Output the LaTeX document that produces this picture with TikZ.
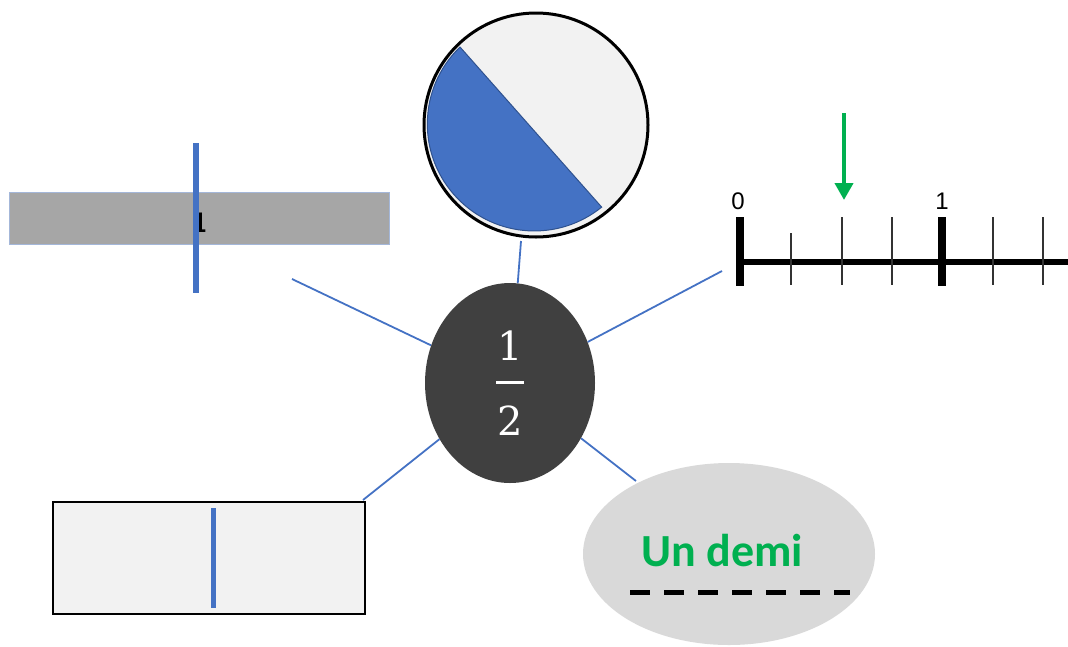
\documentclass[tikz,border=0pt]{standalone}
\usepackage{fontspec}
\newfontfamily\calibri{Carlito}
\newfontfamily\arial{Liberation Sans}
\newfontfamily\cambria{DejaVu Serif}
\usetikzlibrary{arrows.meta,shapes.geometric}

\definecolor{linkblue}{HTML}{4472C4}
\definecolor{darkblue}{HTML}{2F528F}
\definecolor{darkfill}{HTML}{404040}
\definecolor{lightfill}{HTML}{F2F2F2}
\definecolor{barfill}{HTML}{A6A6A6}
\definecolor{barline}{HTML}{A4B7D9}
\definecolor{ovalfill}{HTML}{D9D9D9}
\definecolor{demigreen}{HTML}{00B050}

\begin{document}
\begin{tikzpicture}[x=1pt,y=-1pt,
    link/.style={draw=linkblue,line width=1.8pt},
    cut/.style={draw=linkblue,line width=5pt},
    smalltick/.style={draw=black!80,line width=1.8pt},
    bigtick/.style={draw=black,line width=8pt}]
    \useasboundingbox (0,0) rectangle (1068,646);

    % free ends of the connectors
    \coordinate (pie-end) at (521,241);
    \coordinate (bar-end) at (292,279);
    \coordinate (line-end) at (722,271);
    \coordinate (box-end) at (363,500);
    \coordinate (demi-end) at (636,481);

    % fraction in the middle
    \node[ellipse, fill=darkfill, minimum width=170, minimum height=200, inner sep=0,
          text=white, align=center, font={\cambria\fontsize{40}{23}\selectfont}] (half) at (510,383)
          {1\\\rule{28pt}{2.4pt}\\[21pt]2};

    \draw[link] (pie-end) -- (half);
    \draw[link] (bar-end) -- (half);
    \draw[link] (line-end) -- (half);
    \draw[link] (box-end) -- (half);
    \draw[link] (demi-end) -- (half);

    % disc cut in two
    \coordinate (pie) at (536,125);
    \draw[fill=lightfill, line width=3pt] (pie) circle[radius=112];
    \filldraw[fill=linkblue, draw=darkblue, line width=1pt]
        (460,47) arc[start angle=226, end angle=51, radius=107] -- cycle;

    % grey strip
    \node[draw=barline, fill=barfill, minimum width=380, minimum height=52, inner sep=0] (bar) at (199,218) {};
    \node[font={\calibri\bfseries\fontsize{30}{30}\selectfont}, inner sep=0] (one) at (199,223) {1};
    \draw[cut, line width=6pt] (196,143) -- (196,293);

    % number line
    \draw[line width=6pt] (738,262) -- (1068,262);
    \draw[smalltick] (791,233) -- (791,285);
    \foreach \x in {842,892,993,1043}
        \draw[smalltick] (\x,217) -- (\x,285);
    \draw[bigtick] (740,217) -- (740,286);
    \draw[bigtick] (942,217) -- (942,286);
    \node[font={\arial\fontsize{24}{24}\selectfont}, inner sep=0] (zero) at (738,201) {0};
    \node[font={\arial\fontsize{24}{24}\selectfont}, inner sep=0] (unit) at (942,201) {1};
    \coordinate (arrow-top) at (844,113);
    \coordinate (arrow-tip) at (844,200);
    \draw[demigreen, line width=4pt, -{Triangle[width=18pt,length=17pt]}] (arrow-top) -- (arrow-tip);

    % rectangle cut in two
    \node[draw, line width=2pt, fill=lightfill, minimum width=312, minimum height=112, inner sep=0] (box) at (209,558) {};
    \draw[cut] (213,508) -- (213,608);

    % words
    \node[ellipse, fill=ovalfill, minimum width=292, minimum height=182, inner sep=0] (demi) at (729,554) {};
    \node[font={\calibri\bfseries\fontsize{46}{46}\selectfont}, text=demigreen, inner sep=0] (demi-text) at (722,551) {Un demi};
    \draw[line width=5pt, dash pattern=on 20pt off 14pt] (630,592) -- (850,592);
\end{tikzpicture}
\end{document}
